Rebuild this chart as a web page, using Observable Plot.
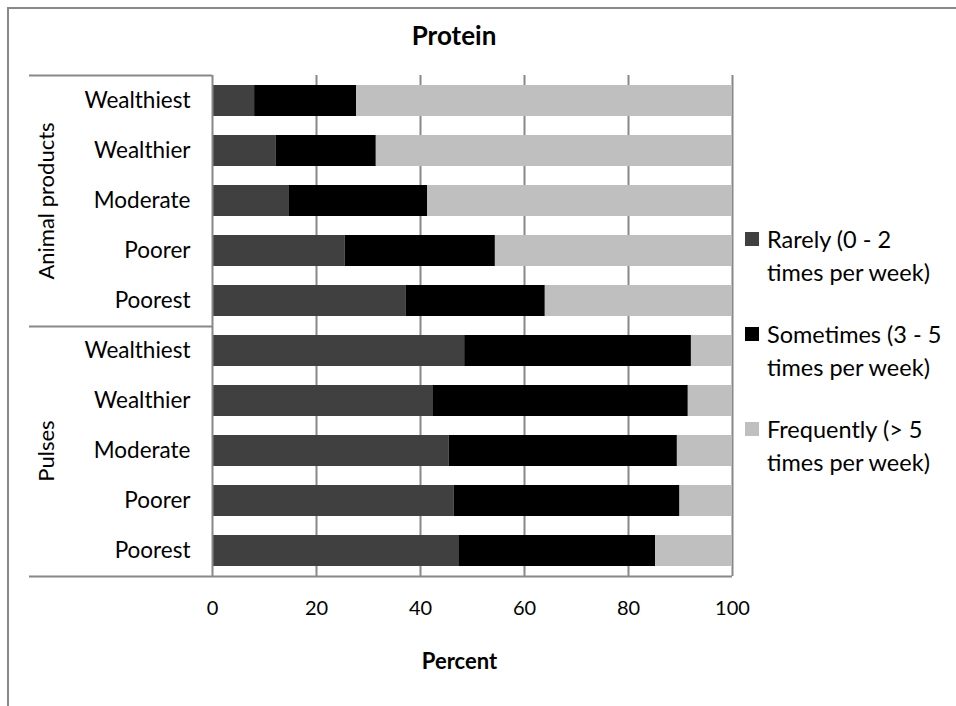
<!DOCTYPE html>
<html>
<head>
<meta charset="utf-8">
<script src="https://cdn.jsdelivr.net/npm/d3@7"></script>
<script src="https://cdn.jsdelivr.net/npm/@observablehq/plot@0.6"></script>
<style>
  html, body { margin: 0; padding: 0; background: #fff; }
  body { width: 956px; height: 706px; position: relative; overflow: hidden; font-family: Lato, "Open Sans", sans-serif; }
  #frame { position: absolute; left: 7px; top: 7px; width: 960px; height: 710px; border-top: 2px solid #888; border-left: 2px solid #888; }
  #chart { position: absolute; left: 0; top: 0; }
  #title { position: absolute; left: 354px; width: 200px; top: 19px; text-align: center; font-weight: bold; font-size: 26px; line-height: 32px; color: #000; }
  .leg { position: absolute; left: 745px; font-size: 23.5px; line-height: 33px; color: #000; }
  .leg .sw { position: absolute; left: 0; top: 9px; width: 14px; height: 14px; }
  .leg .tx { margin-left: 22px; white-space: nowrap; }
</style>
</head>
<body>
<div id="frame"></div>
<div id="chart"></div>
<div id="title">Protein</div>
<div id="legend"></div>
<script>
const groups = ["Animal products", "Pulses"];
const categories = ["Wealthiest", "Wealthier", "Moderate", "Poorer", "Poorest"];
const seriesNames = ["Rarely (0 - 2 times per week)", "Sometimes (3 - 5 times per week)", "Frequently (> 5 times per week)"];
const legendLines = [["Rarely (0 - 2", "times per week)"], ["Sometimes (3 - 5", "times per week)"], ["Frequently (> 5", "times per week)"]];
const seriesColors = ["#404040", "#000000", "#bfbfbf"];
// values per group, in category order
const rarelyAnimal = [8.1, 12.2, 14.8, 25.5, 37.2];
const sometimesAnimal = [19.6, 19.3, 26.6, 28.9, 26.8];
const frequentlyAnimal = [72.3, 68.5, 58.6, 45.6, 36.0];
const rarelyPulses = [48.5, 42.5, 45.5, 46.5, 47.5];
const sometimesPulses = [43.6, 49.0, 43.9, 43.4, 37.7];
const frequentlyPulses = [7.9, 8.5, 10.6, 10.1, 14.8];
const xTicks = [0, 20, 40, 60, 80, 100];
const xLabel = "Percent";

const byGroup = [
  [rarelyAnimal, sometimesAnimal, frequentlyAnimal],
  [rarelyPulses, sometimesPulses, frequentlyPulses]
];
const rows = [];
const keys = [];
groups.forEach((g, gi) => {
  categories.forEach((c, ci) => {
    const key = g + "|" + c;
    keys.push(key);
    seriesNames.forEach((s, si) => {
      rows.push({key, group: g, category: c, series: s, value: byGroup[gi][si][ci]});
    });
  });
});

const W = 956, H = 706;
const mL = 212, mR = 224, mT = 75, mB = 130;
const lineColor = "#888";

function groupLines(index, scales, values, dimensions) {
  const g = d3.create("svg:g");
  const top = dimensions.marginTop;
  const bottom = dimensions.height - dimensions.marginBottom;
  const left = dimensions.marginLeft;
  const right = dimensions.width - dimensions.marginRight;
  const step = (bottom - top) / keys.length;
  const x0 = 29;
  for (let i = 0; i <= groups.length; i++) {
    const y = Math.round(top + i * categories.length * step) + 0.5;
    g.append("line").attr("x1", x0).attr("x2", i === groups.length ? right : left)
      .attr("y1", y).attr("y2", y).attr("stroke", lineColor).attr("stroke-width", 2);
  }
  return g.node();
}

const chart = Plot.plot({
  width: W,
  height: H,
  marginLeft: mL,
  marginRight: mR,
  marginTop: mT,
  marginBottom: mB,
  style: {fontFamily: "Lato, 'Open Sans', sans-serif", fontSize: "22.5px", color: "#000", background: "transparent"},
  x: {domain: [0, 100], ticks: xTicks, tickSize: 0, tickPadding: 24, label: null},
  y: {domain: keys, paddingInner: 0.38, paddingOuter: 0.19, tickSize: 0, tickPadding: 22,
      tickFormat: d => d.split("|")[1], label: null},
  color: {domain: seriesNames, range: seriesColors},
  marks: [
    Plot.gridX(xTicks.filter(d => d > 0), {stroke: lineColor, strokeOpacity: 1, strokeWidth: 2}),
    Plot.barX(rows, Plot.stackX({x: "value", y: "key", fill: "series", order: seriesNames, inset: 0})),
    Plot.ruleX([0], {stroke: lineColor, strokeWidth: 2}),
    groupLines,
    Plot.text(groups.map(g => g + "|Moderate"), {
      y: d => d, text: d => d.split("|")[0], frameAnchor: "left", textAnchor: "middle",
      dx: -166, rotate: -90, fontSize: 22, fill: "#000"
    }),
    Plot.text([xLabel], {frameAnchor: "bottom", text: d => d, dx: -13, dy: 92, fontWeight: "bold", fontSize: 22, fill: "#000"})
  ]
});
d3.select(chart).selectAll("g[aria-label='x-axis tick label'] text, g[aria-label='x-axis tick label']").style("font-size", "20px");
document.getElementById("chart").appendChild(chart);

const legend = document.getElementById("legend");
legendLines.forEach((lines, i) => {
  const div = document.createElement("div");
  div.className = "leg";
  div.style.top = (223 + i * 95) + "px";
  const sw = document.createElement("div");
  sw.className = "sw";
  sw.style.background = seriesColors[i];
  div.appendChild(sw);
  lines.forEach(t => {
    const tx = document.createElement("div");
    tx.className = "tx";
    tx.textContent = t;
    div.appendChild(tx);
  });
  legend.appendChild(div);
});
</script>
</body>
</html>
